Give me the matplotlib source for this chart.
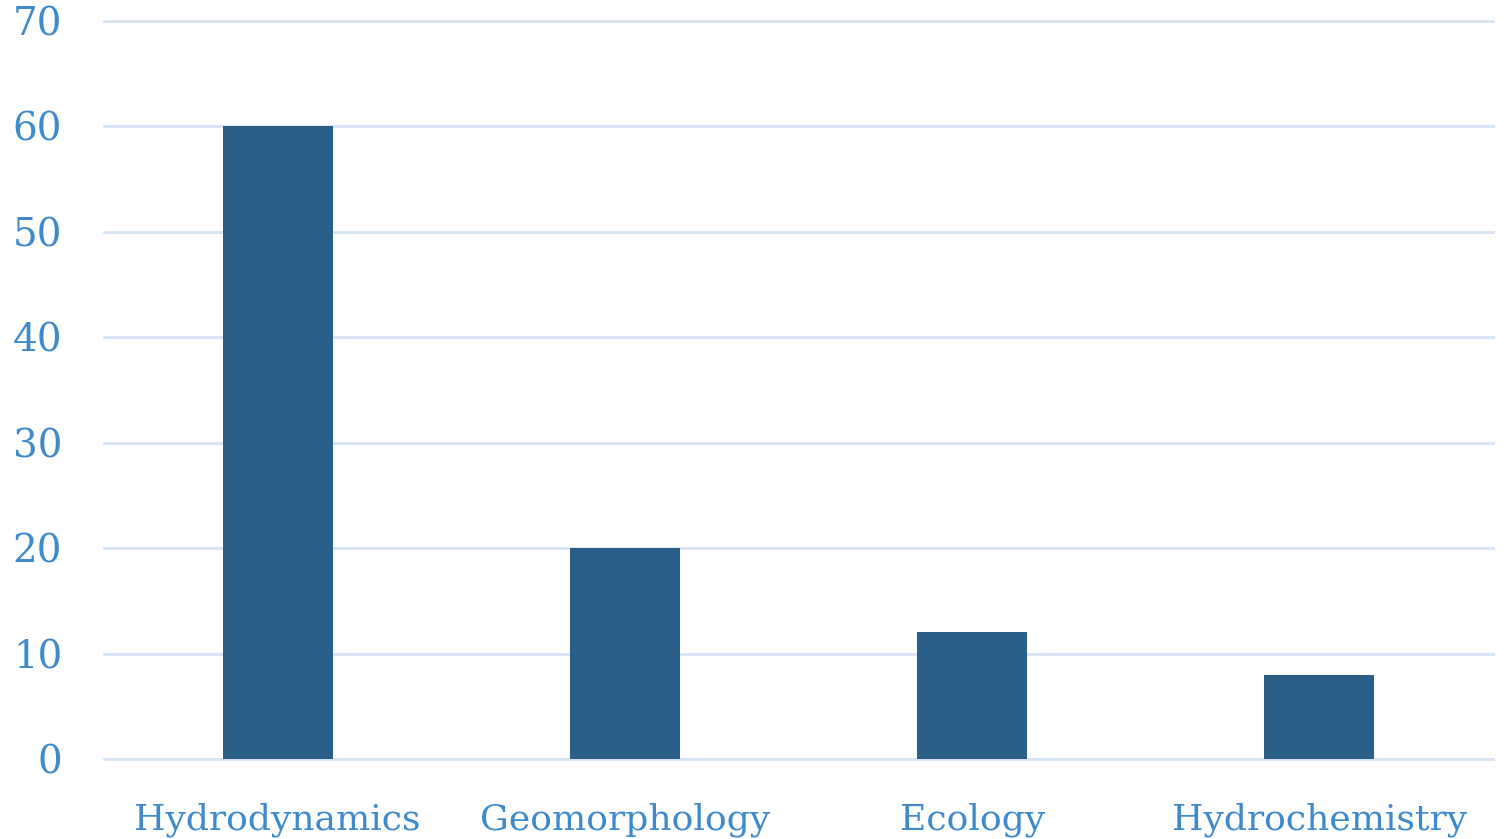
import matplotlib.pyplot as plt

# ============================================================
# Data
# ============================================================

categories = ["Hydrodynamics", "Geomorphology", "Ecology", "Hydrochemistry"]

values = [60, 20, 12, 8]

y_ticks = [0, 10, 20, 30, 40, 50, 60, 70]

bar_color = "#2A5F8A"
text_color = "#3E8ACC"
grid_color = "#D6E4F3"

# ============================================================
# Plot
# ============================================================

plt.rcParams["font.family"] = ["DejaVu Serif"]

fig = plt.figure(figsize=(15.06, 8.39), dpi=100)

ax = fig.add_axes([104 / 1506, 80 / 839, (1493 - 104) / 1506, (759 - 21) / 839])

x = range(len(categories))

ax.bar(x, values, width=0.317, color=bar_color, zorder=3)

ax.set_xlim(-0.5, len(categories) - 0.5)
ax.set_ylim(0, 70)
ax.set_yticks(y_ticks)
ax.set_xticks(list(x))
ax.set_xticklabels(categories)

ax.grid(axis="y", color=grid_color, linewidth=2, zorder=0)
ax.grid(axis="x", visible=False)

for line in ax.get_ygridlines():
    line.set_clip_on(False)

for spine in ax.spines.values():
    spine.set_visible(False)

ax.tick_params(axis="y", length=0, labelsize=28, labelcolor=text_color, pad=30)
ax.tick_params(axis="x", length=0, labelsize=26, labelcolor=text_color, pad=31)

fig.savefig("out.png", dpi=100)
plt.close(fig)
